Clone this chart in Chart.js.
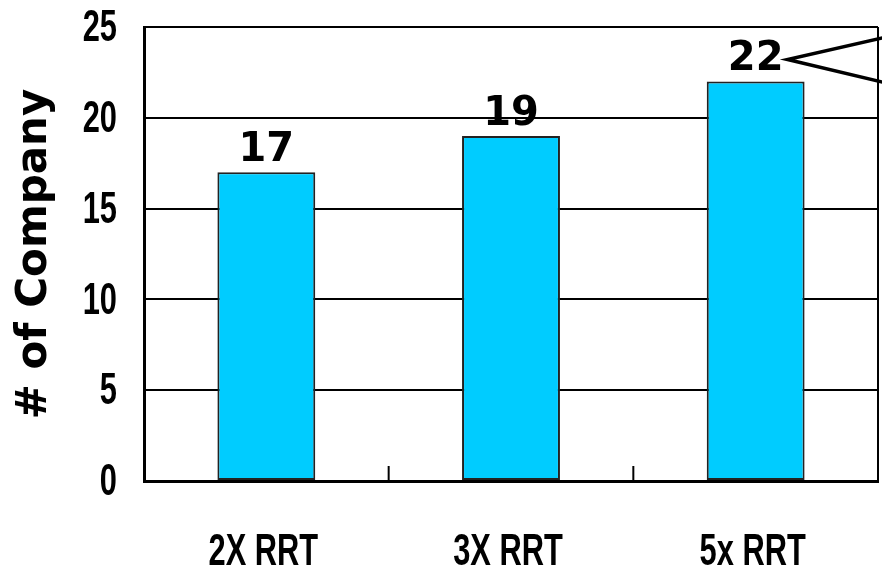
<!DOCTYPE html>
<html>
<head>
<meta charset="utf-8">
<script src="https://cdn.jsdelivr.net/npm/chart.js@4/dist/chart.umd.min.js"></script>
<style>
  html, body { margin: 0; padding: 0; background: #fff; }
  #wrap { width: 882px; height: 574px; }
</style>
</head>
<body>
<div id="wrap"><canvas id="chart" width="882" height="574"></canvas></div>
<script>
// Data
const categories = ['2X RRT', '3X RRT', '5x RRT'];
const companies = [17, 19, 22];
const yTicks = [0, 5, 10, 15, 20, 25];

const tickFont = "bold 44px 'Liberation Sans', Arial, sans-serif";
const labelFont = "bold 40px 'DejaVu Sans', sans-serif";
const narrow = 0.70; // squeeze tick text to look like a condensed face

// draw text squeezed horizontally
function narrowText(ctx, text, x, y, align) {
    ctx.save();
    ctx.translate(x, y);
    ctx.scale(narrow, 1);
    ctx.textAlign = align;
    ctx.fillText(text, 0, 0);
    ctx.restore();
}

// Frame, tick labels, category ticks, value labels and the callout
const decorPlugin = {
    id: 'decor',
    afterDatasetsDraw(chart) {
        const ctx = chart.ctx;
        const area = chart.chartArea;
        const x = chart.scales.x;
        const y = chart.scales.y;
        ctx.save();
        ctx.strokeStyle = '#000';
        ctx.fillStyle = '#000';

        // right border
        ctx.lineWidth = 2;
        ctx.beginPath();
        ctx.moveTo(area.right, area.top);
        ctx.lineTo(area.right, area.bottom);
        ctx.stroke();

        // tick marks between categories, pointing up
        ctx.lineWidth = 2;
        for (let i = 0; i < categories.length - 1; i++) {
            const px = (x.getPixelForValue(i) + x.getPixelForValue(i + 1)) / 2;
            ctx.beginPath();
            ctx.moveTo(px, area.bottom);
            ctx.lineTo(px, area.bottom - 15);
            ctx.stroke();
        }

        // tick labels
        ctx.font = tickFont;
        ctx.textBaseline = 'middle';
        yTicks.forEach(v => {
            narrowText(ctx, String(v), area.left - 27, y.getPixelForValue(v) + 2, 'right');
        });
        ctx.textBaseline = 'alphabetic';
        categories.forEach((c, i) => {
            narrowText(ctx, c, x.getPixelForValue(i) - 3, area.bottom + 84, 'center');
        });

        // value labels
        const meta = chart.getDatasetMeta(0);
        ctx.font = labelFont;
        ctx.textAlign = 'center';
        meta.data.forEach((bar, i) => {
            ctx.fillText(String(companies[i]), bar.x, bar.y - 11);
        });

        // callout pointing at the last label
        const last = meta.data[meta.data.length - 1];
        const w = ctx.measureText(String(companies[companies.length - 1])).width;
        const ax = last.x + w / 2 + 4;
        const ay = last.y - 22;
        ctx.lineWidth = 3.5;
        ctx.beginPath();
        ctx.moveTo(chart.width + 2, ay - 22);
        ctx.lineTo(ax, ay);
        ctx.lineTo(chart.width + 2, ay + 23);
        ctx.stroke();
        ctx.restore();
    }
};

const ctx = document.getElementById('chart').getContext('2d');
new Chart(ctx, {
    type: 'bar',
    data: {
        labels: categories,
        datasets: [{
            data: companies,
            backgroundColor: '#00CCFF',
            borderColor: '#222222',
            borderWidth: 2,
            borderSkipped: false,
            categoryPercentage: 1.0,
            barPercentage: 0.4
        }]
    },
    options: {
        responsive: false,
        animation: false,
        layout: { padding: { top: 27, right: 4, left: 0, bottom: 0 } },
        plugins: {
            legend: { display: false },
            tooltip: { enabled: false }
        },
        scales: {
            x: {
                grid: { display: false },
                border: { display: true, color: '#000', width: 3 },
                ticks: { display: false },
                afterFit(scale) { scale.height = 93; }
            },
            y: {
                min: 0,
                max: 25,
                afterBuildTicks(scale) { scale.ticks = yTicks.map(v => ({ value: v })); },
                grid: { color: '#000', lineWidth: 2, drawTicks: false },
                border: { display: true, color: '#000', width: 3 },
                ticks: { display: false },
                title: {
                    display: true,
                    text: '# of Company',
                    color: '#000',
                    font: { family: "'DejaVu Sans', sans-serif", size: 42, weight: 'bold' },
                    padding: { top: 10, bottom: 0 }
                },
                afterFit(scale) { scale.width = 144; }
            }
        }
    },
    plugins: [decorPlugin]
});
</script>
</body>
</html>
